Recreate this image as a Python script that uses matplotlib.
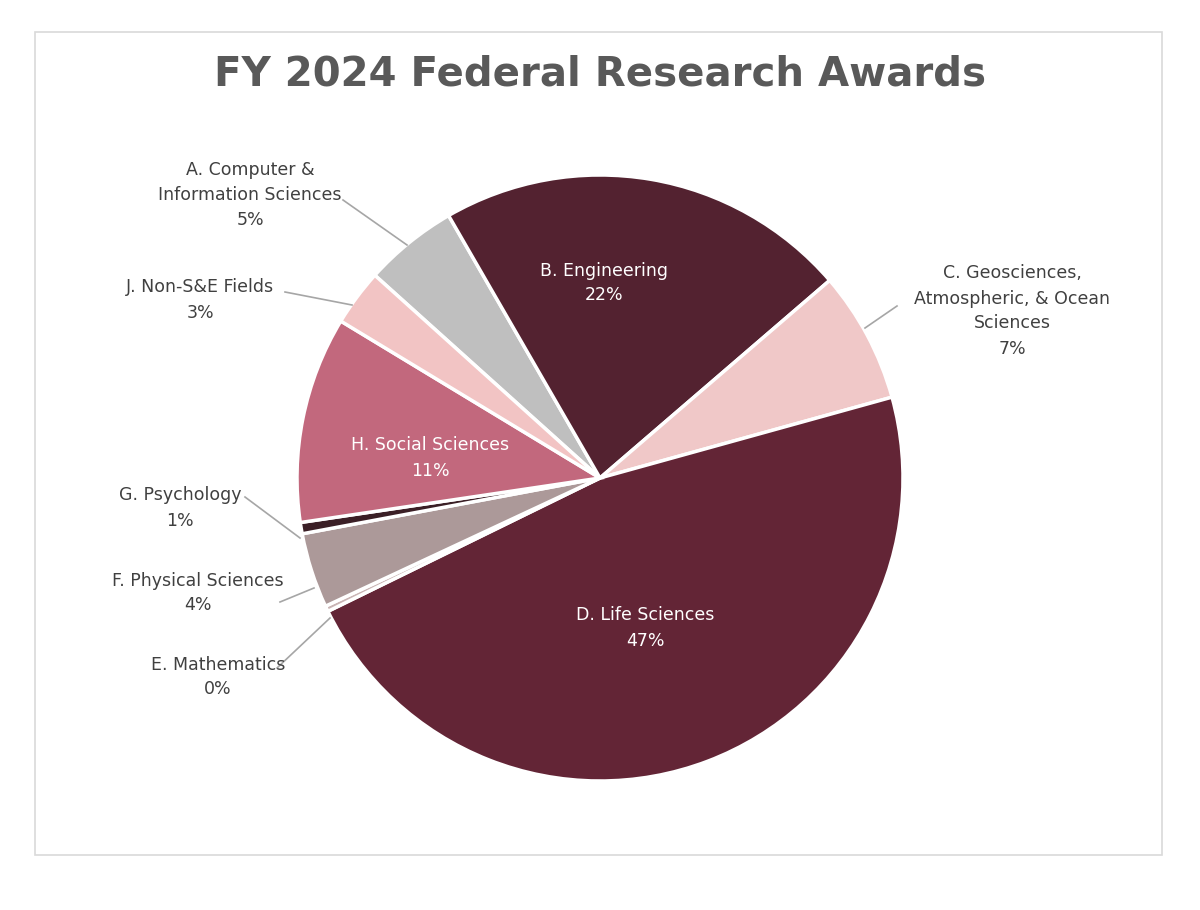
import matplotlib.pyplot as plt
from matplotlib.patches import Rectangle

categories = ["A. Computer &\nInformation Sciences", "B. Engineering",
              "C. Geosciences,\nAtmospheric, & Ocean\nSciences", "D. Life Sciences",
              "E. Mathematics", "F. Physical Sciences", "G. Psychology",
              "H. Social Sciences", "J. Non-S&E Fields"]
values = [5.0, 22.0, 7.0, 47.0, 0.3, 4.0, 0.6, 11.0, 3.0]
pct_labels = ["5%", "22%", "7%", "47%", "0%", "4%", "1%", "11%", "3%"]
colors = ["#BFBFBF", "#532230", "#F0C8C8", "#632536", "#C9B4B4",
          "#AC9999", "#3B1F26", "#C2687D", "#F2C4C4"]

H = 910
# label placement in pixel coords: (text x, text y, line start, line end or None)
label_pos = {
    0: ((250, 195), (343, 200), (407, 245)),
    1: ((604, 283), None, None),
    2: ((1012, 311), (865, 328), (897, 306)),
    3: ((645, 628), None, None),
    4: ((218, 677), (277, 668), (330, 618)),
    5: ((198, 593), (280, 602), (314, 588)),
    6: ((180, 508), (245, 497), (300, 538)),
    7: ((430, 458), None, None),
    8: ((200, 300), (285, 292), (352, 305)),
}

fig = plt.figure(figsize=(12, 9.1), dpi=100)
ax = fig.add_axes([0, 0, 1, 1])
ax.set_xlim(0, 1200)
ax.set_ylim(0, H)
ax.set_aspect("equal")
ax.axis("off")

ax.add_patch(Rectangle((35, H - 855), 1127, 823, fill=False, edgecolor="#D9D9D9", lw=1.2))

ax.pie(values, colors=colors, startangle=138, counterclock=False,
       center=(600, H - 478), radius=303,
       wedgeprops=dict(edgecolor="white", linewidth=2.5), frame=True)
ax.set_xlim(0, 1200)
ax.set_ylim(0, H)
ax.axis("off")

ax.text(600, H - 75, "FY 2024 Federal Research Awards", ha="center", va="center",
        fontsize=29, fontweight="bold", color="#595959")

for i, (name, pct) in enumerate(zip(categories, pct_labels)):
    (tx, ty), p0, p1 = label_pos[i]
    inside = p0 is None
    ax.text(tx, H - ty, f"{name}\n{pct}", ha="center", va="center", fontsize=12.5,
            color="white" if inside else "#404040", linespacing=1.5)
    if not inside:
        ax.plot([p0[0], p1[0]], [H - p0[1], H - p1[1]], color="#A6A6A6", lw=1.2)

fig.savefig("out.png", dpi=100)
